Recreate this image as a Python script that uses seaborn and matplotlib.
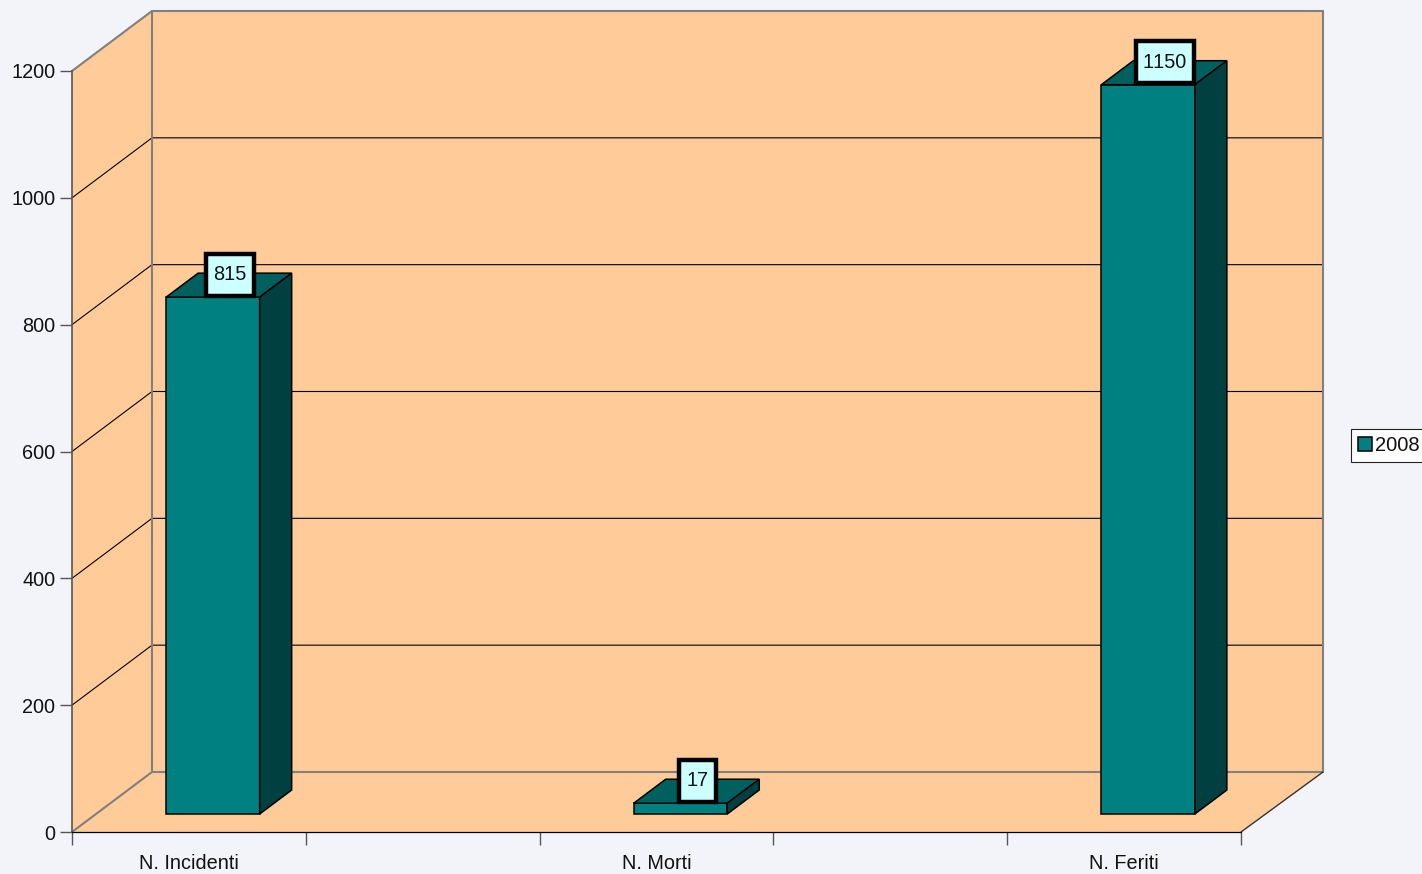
import numpy as np
import pandas as pd
import matplotlib
matplotlib.use("Agg")
import matplotlib.pyplot as plt
from matplotlib.path import Path
import seaborn as sns

categories = ["N. Incidenti", "N. Morti", "N. Feriti"]
values = [815, 17, 1150]
category_slots = [0, 2, 4]
series_name = ["2008", "2008", "2008"]
y_ticks = [0, 200, 400, 600, 800, 1000, 1200]

BG = "#F3F3FA"
WALL = "#FFCC99"
FRONT = "#008080"
TOP = "#006060"
SIDE = "#004040"
LABEL = "#CCFFFF"
GREY = "#808080"

sns.set_theme(style="white")
plt.rcParams["font.family"] = ["Liberation Sans", "DejaVu Sans"]
plt.rcParams["text.color"] = "#111111"
plt.rcParams["text.kerning_factor"] = 6

W, H = 1422, 874
FS = 14.3
fig = plt.figure(figsize=(W / 100, H / 100), dpi=100, facecolor=BG)
ax = fig.add_axes([72 / W, (H - 832) / H, (1241 - 72) / W, (832 - 71) / H])
ax.patch.set_visible(False)

# depth vector of the pseudo-3D box, in data units
DX = 80 / (1169 / 5)
DY = 60 / (761 / 1200)
x0, x1, y0, y1 = -0.5, 4.5, 0, 1200
xb1 = x1 + DX * 1.025
near, far = 0.3, 0.7
bar_w = 0.2


def label_box(x, y, width, height, fontsize):
    """Rectangle with its own horizontal and vertical padding, in display pixels."""
    cy = y + height / 2
    left, right = x - 7.3, x + width + 7.3
    low, high = cy - 21, cy + 21
    return Path([(left, low), (right, low), (right, high), (left, high), (left, low)], closed=True)


df = pd.DataFrame({"slot": np.array(category_slots) + near * DX, "value": values, "series": series_name})
sns.barplot(data=df, x="slot", y="value", hue="series", native_scale=True, width=bar_w,
            palette=[FRONT], saturation=1, bottom=near * DY, edgecolor="black", linewidth=1.1,
            dodge=False, ax=ax, zorder=4, clip_on=False, legend=False)
ax.set_xlim(x0, x1)
ax.set_ylim(y0, y1)

# walls and floor
ax.fill([x0, x0 + DX, x0 + DX, x0], [y0, y0 + DY, y1 + DY, y1], color=WALL, lw=0, zorder=1, clip_on=False)
ax.fill([x0 + DX, xb1, xb1, x0 + DX], [y0 + DY, y0 + DY, y1 + DY, y1 + DY], color=WALL, lw=0, zorder=1, clip_on=False)
ax.fill([x0, x1, xb1, x0 + DX], [y0, y0, y0 + DY, y0 + DY], color=WALL, lw=0, zorder=1, clip_on=False)

# gridlines on the walls
for v in y_ticks:
    c = GREY if v in (y_ticks[0], y_ticks[-1]) else "black"
    lw = 1.5 if c == GREY else 0.8
    ax.plot([x0, x0 + DX, xb1], [v, v + DY, v + DY], color=c, lw=lw, zorder=2, clip_on=False)
ax.plot([x0 + DX, x0 + DX], [y0 + DY, y1 + DY], color=GREY, lw=1.5, zorder=2, clip_on=False)
ax.plot([xb1, xb1], [y0 + DY, y1 + DY], color=GREY, lw=1.5, zorder=2, clip_on=False)
ax.plot([x1, xb1], [y0, y0 + DY], color="#333333", lw=1.0, zorder=2, clip_on=False)

# top and side faces of each bar, then the value labels
half = bar_w
for s, v in zip(category_slots, values):
    xa = s + near * DX - half
    xb = s + near * DX + half
    ya, yb = near * DY, v + near * DY
    d_x, d_y = (far - near) * DX, (far - near) * DY
    ax.fill([xa, xb, xb + d_x, xa + d_x], [yb, yb, yb + d_y, yb + d_y], fc=TOP, ec="black", lw=1.1, zorder=4, clip_on=False)
    ax.fill([xb, xb + d_x, xb + d_x, xb], [ya, ya + d_y, yb + d_y, yb], fc=SIDE, ec="black", lw=1.1, zorder=4, clip_on=False)
    ax.annotate(str(v), xy=(s + 0.5 * DX, v + far * DY), xytext=(0.6, -1.0), textcoords="offset points",
                ha="center", va="center", fontsize=FS, zorder=6, annotation_clip=False,
                bbox=dict(boxstyle=label_box, fc=LABEL, ec="black", lw=3.2))

# axes
for name in ("top", "right"):
    ax.spines[name].set_visible(False)
ax.spines["left"].set_color("#555555")
ax.spines["left"].set_linewidth(1.2)
ax.spines["bottom"].set_color("black")
ax.spines["bottom"].set_linewidth(0.9)
for sp in ax.spines.values():
    sp.set_zorder(3)
ax.set_yticks(y_ticks)
ax.tick_params(axis="y", which="major", left=True, length=8.6, width=1.0, color="#555555", pad=3.5, labelsize=FS, labelcolor="#111111")
ax.set_xticks(category_slots)
ax.set_xticklabels(categories)
ax.set_xticks(np.arange(x0, x1 + 1), minor=True)
ax.tick_params(axis="x", which="major", bottom=True, length=0, pad=15.5, labelsize=FS, labelcolor="#111111")
ax.tick_params(axis="x", which="minor", bottom=True, length=9.4, width=1.0, color="#555555")
ax.set_xlabel("")
ax.set_ylabel("")
ax.grid(False)

leg = ax.legend(handles=[ax.patches[0]], labels=[series_name[0]], loc="center left",
                bbox_to_anchor=(1351 / W, (H - 445.5) / H), bbox_transform=fig.transFigure,
                frameon=True, fancybox=False, framealpha=1, facecolor="white", edgecolor="#222222",
                fontsize=14.5, handlelength=0.72, handleheight=0.72, handletextpad=0.15,
                borderaxespad=0, borderpad=0.33)
leg.get_frame().set_linewidth(0.8)
leg.set_zorder(10)

fig.savefig("out.png", dpi=100, facecolor=BG)
